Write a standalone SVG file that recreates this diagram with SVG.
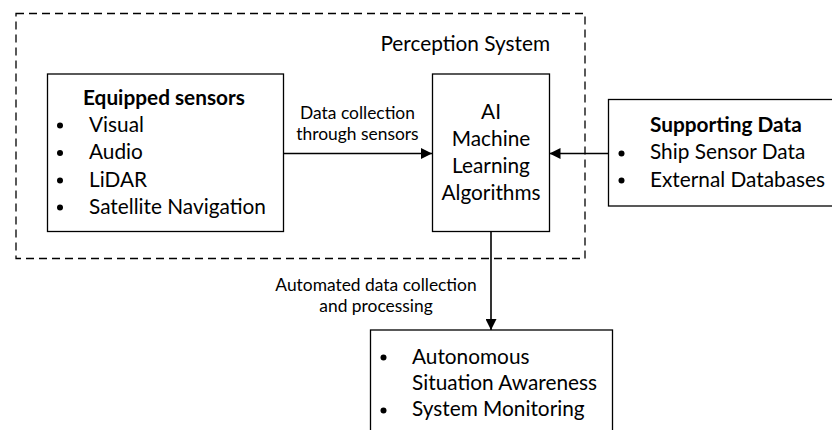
<svg xmlns="http://www.w3.org/2000/svg" width="832" height="430" viewBox="0 0 832 430">
  <style>
    text { font-family: Lato, "Open Sans", sans-serif; fill: #000; }
    .t { font-size: 20.8px; }
    .b { font-size: 20.8px; font-weight: bold; }
    .s { font-size: 17.4px; }
    .box { fill: #fff; stroke: #000; stroke-width: 1.3; }
    .group { fill: none; stroke: #000; stroke-width: 1.3; stroke-dasharray: 8 5; }
    .edge { fill: none; stroke: #000; stroke-width: 1.6; }
    .mid { text-anchor: middle; }
  </style>
  <defs>
    <marker id="arrow" viewBox="0 0 10 10" refX="10" refY="5" markerWidth="11" markerHeight="11" markerUnits="userSpaceOnUse" orient="auto">
      <path d="M0,0 L10,5 L0,10 z" fill="#000"/>
    </marker>
    <circle id="dot" r="3" fill="#000"/>
  </defs>

  <!-- dashed boundary of the perception system -->
  <g id="perception-system">
    <rect class="group" x="16" y="13.5" width="569" height="245"/>
    <text class="t" x="550" y="51" text-anchor="end">Perception System</text>
  </g>

  <g id="connectors">
    <line class="edge" x1="283" y1="153.5" x2="432" y2="153.5" marker-end="url(#arrow)"/>
    <line class="edge" x1="608" y1="153.5" x2="549.5" y2="153.5" marker-end="url(#arrow)"/>
    <line class="edge" x1="491" y1="232" x2="491" y2="330" marker-end="url(#arrow)"/>
    <text class="s mid" x="357.5" y="118.5">Data collection</text>
    <text class="s mid" x="357.5" y="140">through sensors</text>
    <text class="s mid" x="376" y="290.5">Automated data collection</text>
    <text class="s mid" x="376" y="311.5">and processing</text>
  </g>

  <g id="equipped-sensors">
    <rect class="box" x="47.5" y="74" width="236" height="157.5"/>
    <text class="b" x="83" y="105">Equipped sensors</text>
    <use href="#dot" x="60" y="125.5"/>
    <use href="#dot" x="60" y="153"/>
    <use href="#dot" x="60" y="180.5"/>
    <use href="#dot" x="60" y="207.5"/>
    <text class="t" x="89" y="131.5">Visual</text>
    <text class="t" x="89" y="159">Audio</text>
    <text class="t" x="89" y="186.5">LiDAR</text>
    <text class="t" x="89" y="213.5">Satellite Navigation</text>
  </g>

  <g id="ai-algorithms">
    <rect class="box" x="432.5" y="74" width="117" height="157.5"/>
    <text class="t mid" x="491" y="118.5">AI</text>
    <text class="t mid" x="491" y="145.5">Machine</text>
    <text class="t mid" x="491" y="173">Learning</text>
    <text class="t mid" x="491" y="200">Algorithms</text>
  </g>

  <g id="supporting-data">
    <rect class="box" x="608.5" y="99.5" width="226" height="106.5"/>
    <text class="b" x="650" y="131.5">Supporting Data</text>
    <use href="#dot" x="621.5" y="153.5"/>
    <use href="#dot" x="621.5" y="180.5"/>
    <text class="t" x="650" y="159">Ship Sensor Data</text>
    <text class="t" x="650" y="186.5">External Databases</text>
  </g>

  <g id="outcomes">
    <rect class="box" x="370.5" y="330" width="242" height="110"/>
    <use href="#dot" x="383.5" y="357.5"/>
    <use href="#dot" x="383.5" y="410.5"/>
    <text class="t" x="412" y="363.5">Autonomous</text>
    <text class="t" x="412" y="389.5">Situation Awareness</text>
    <text class="t" x="412" y="416">System Monitoring</text>
  </g>
</svg>
